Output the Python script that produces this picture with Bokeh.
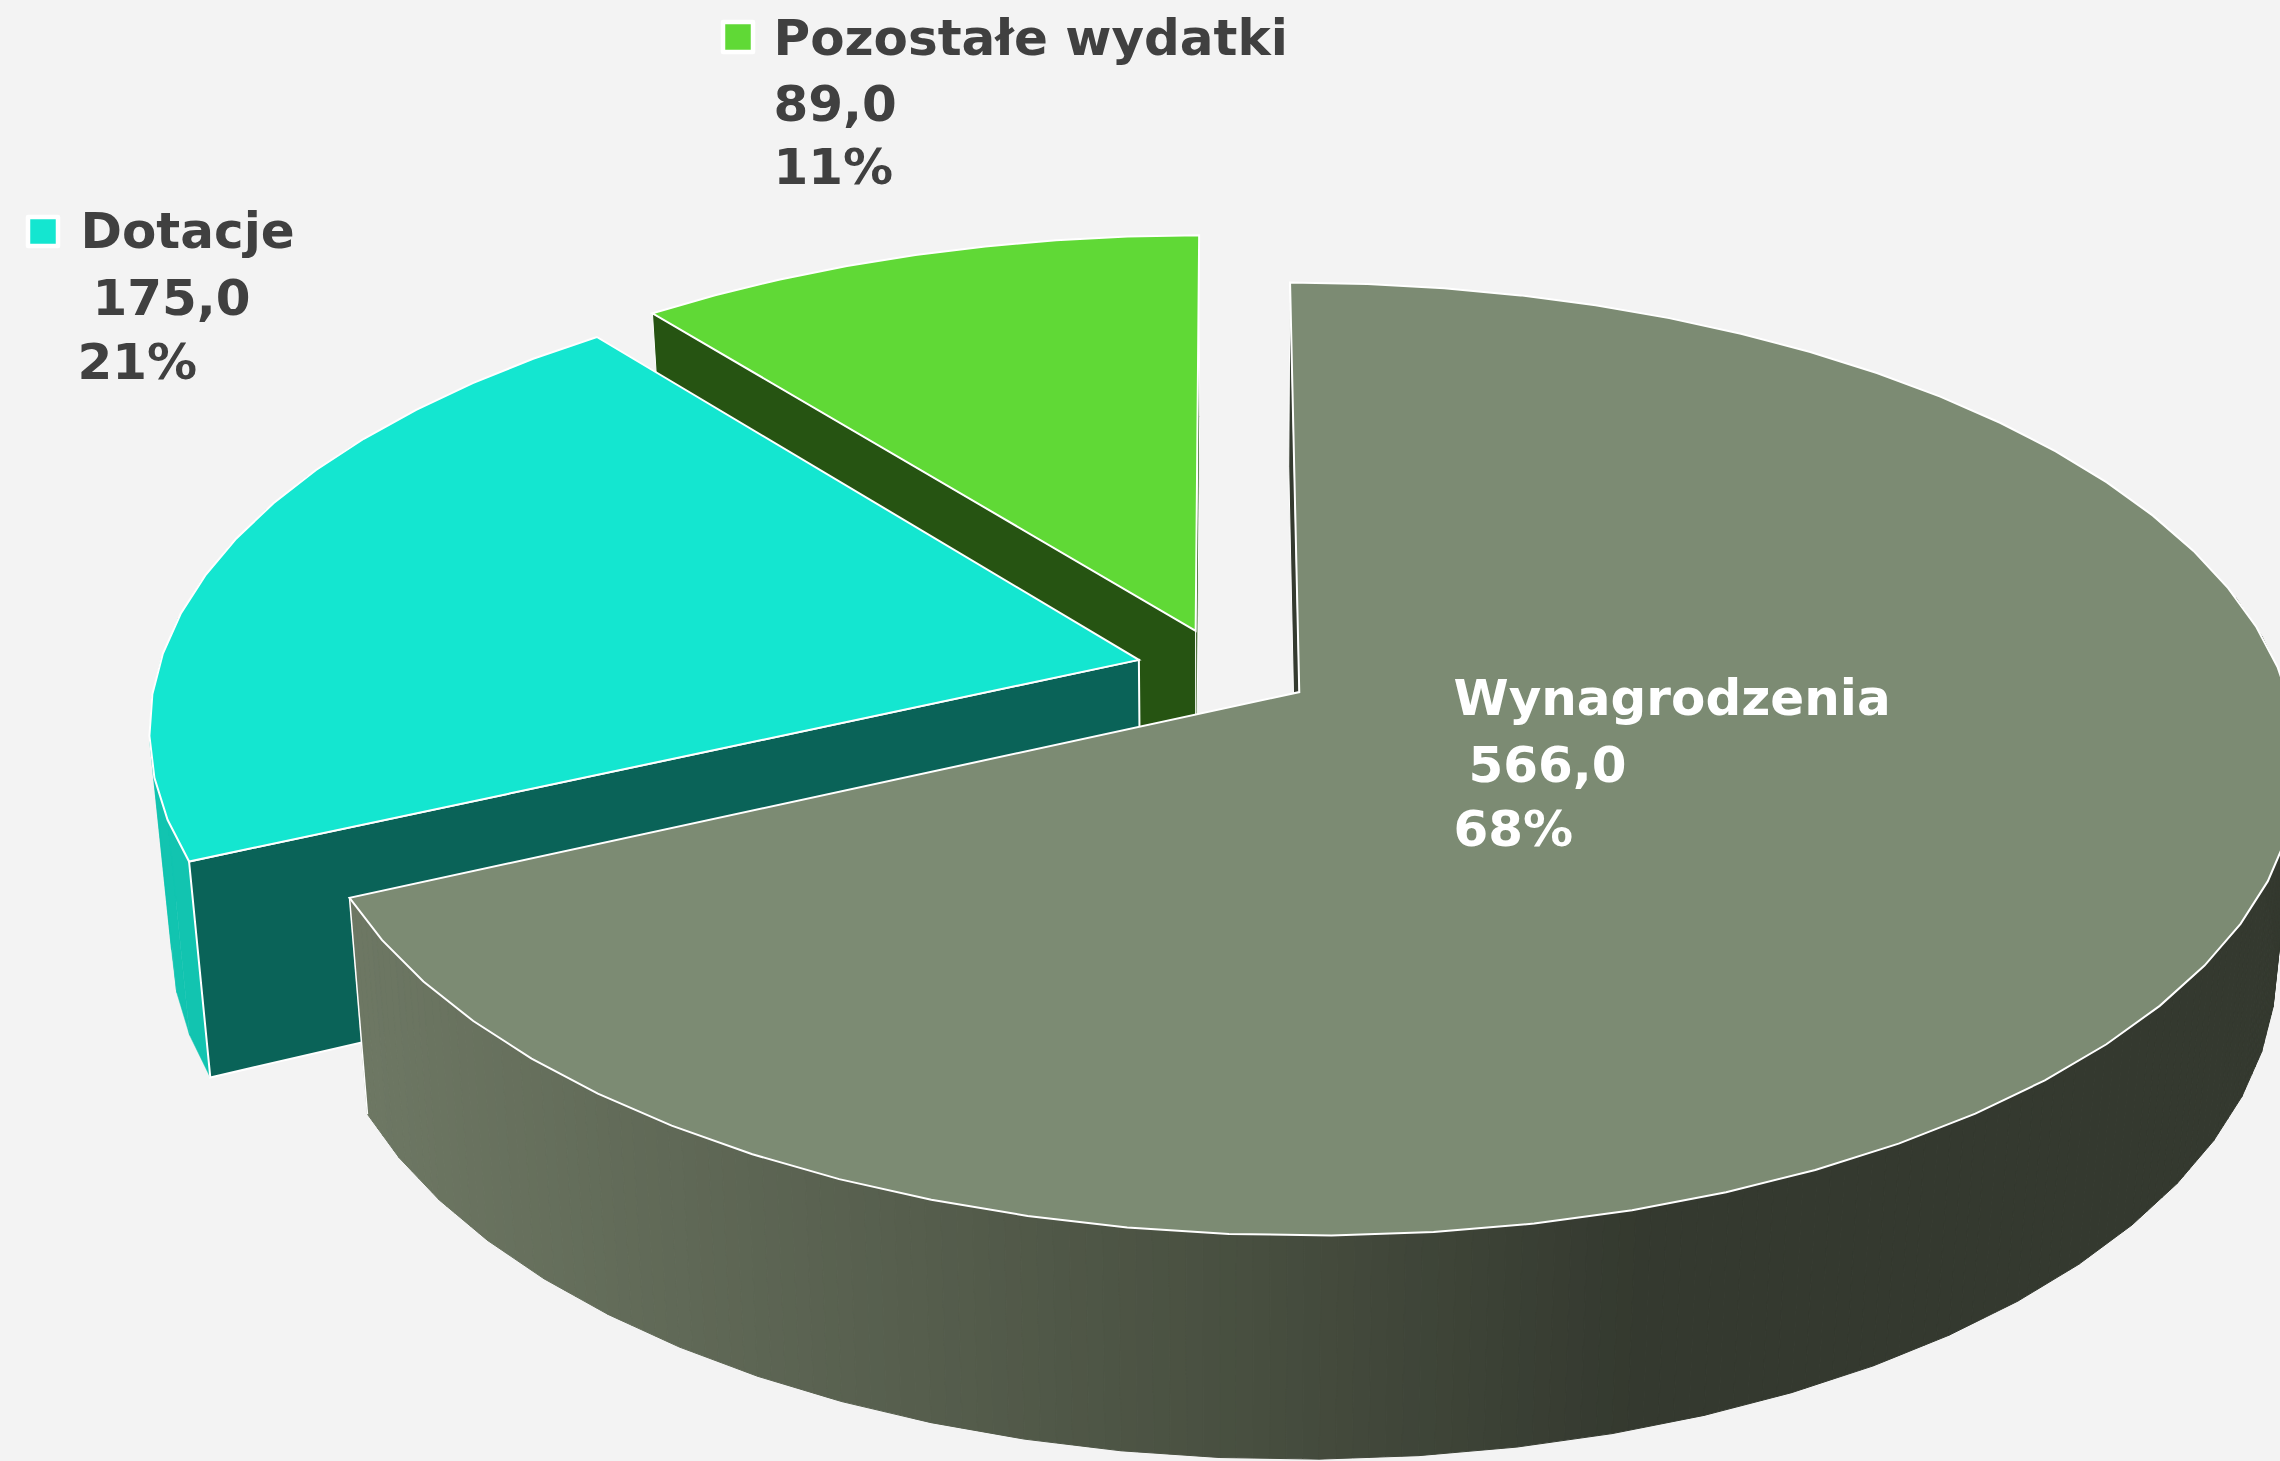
import numpy as np
from bokeh.plotting import figure
from bokeh.embed import file_html
from bokeh.resources import INLINE
from bokeh.core.properties import value

# ---- data ----
categories = ["Wynagrodzenia", "Dotacje", "Pozostałe wydatki"]
values = [566.0, 175.0, 89.0]

# ---- styles ----
BG = "#f3f3f3"
TOP = ["#7c8b73", "#14e6d0", "#60d936"]
END = ["#343a2f", "#0a6358", "#265412"]
RIM_TEAL = "#12c4b0"
TEXT_DARK = "#404040"
FONT = "DejaVu Sans"
FS = "50px"
TEXT_SHIFT = -20

W, H = 2280, 1461
CX, CY = 1224.0, 669.0      # projected pie centre
A, B, K = 981.0, 460.8, 0.1396   # ellipse axes and perspective
EXPLODE = 0.09
STEP = 5.1


def proj(X, Y):
    d = 1 + K * Y
    return CX + A * X / d, CY - B * Y / d


def drop(sx, X, Y):
    """base of the cake below a top-face point"""
    return -0.0205 * (sx - CX), 203 - 20 * Y - 5 * X


total = sum(values)
spans = [v / total * 360 for v in values]
starts = [90 - sum(spans[:i]) for i in range(3)]   # clockwise from twelve o'clock

slices = []
for st, sp in zip(starts, spans):
    mid = np.radians(st - sp / 2)
    ox, oy = EXPLODE * np.cos(mid), EXPLODE * np.sin(mid)
    n = max(2, int(round(sp / STEP)))
    th = np.radians(np.linspace(st, st - sp, n + 1))
    X, Y = ox + np.cos(th), oy + np.sin(th)
    sx, sy = proj(X, Y)
    ax, ay = proj(np.array([ox]), np.array([oy]))
    slices.append(dict(ox=ox, oy=oy, X=X, Y=Y, sx=sx, sy=sy, ax=ax[0], ay=ay[0], st=st, sp=sp, n=n))


def base(px, py, X, Y):
    dx, dy = drop(px, X, Y)
    return px + dx, py + dy


def rim_pts(s, a0, a1):
    n = max(2, int(round(abs(a1 - a0) / STEP)))
    th = np.radians(np.linspace(a0, a1, n + 1))
    X, Y = s["ox"] + np.cos(th), s["oy"] + np.sin(th)
    sx, sy = proj(X, Y)
    bx, by = base(sx, sy, X, Y)
    return sx, sy, bx, by


p = figure(width=W, height=H, x_range=(0, W), y_range=(H, 0),
           toolbar_location=None, output_backend="svg",
           background_fill_color=BG, border_fill_color=BG,
           min_border=0, outline_line_color=None)
p.axis.visible = False
p.grid.visible = False


def face(xs, ys, color, lw=2.0, line="white"):
    p.patch(list(xs), list(ys), fill_color=color, line_color=line, line_width=lw, line_join="miter")


def cut_wall(s, idx, color, lw=1.5):
    """cut face from the apex to rim point idx"""
    rx, ry, rX, rY = s["sx"][idx], s["sy"][idx], s["X"][idx], s["Y"][idx]
    bx1, by1 = base(s["ax"], s["ay"], s["ox"], s["oy"])
    bx2, by2 = base(rx, ry, rX, rY)
    face([s["ax"], rx, bx2, bx1], [s["ay"], ry, by2, by1], color, lw)


def top(s, color):
    face([s["ax"], *s["sx"]], [s["ay"], *s["sy"]], color)


# order: far slices first
main, teal, green = slices

# green
cut_wall(green, 0, END[2], 1.0)     # right cut
cut_wall(green, -1, END[2], 1.0)    # left cut, towards Dotacje
top(green, TOP[2])

# teal
sx, sy, bx, by = rim_pts(teal, 150, starts[1] + 360)
tx = [[sx[i], sx[i + 1], bx[i + 1], bx[i]] for i in range(len(sx) - 1)]
ty = [[sy[i], sy[i + 1], by[i + 1], by[i]] for i in range(len(sx) - 1)]
p.patches(tx, ty, fill_color=RIM_TEAL, line_color=RIM_TEAL, line_width=0.5)
cut_wall(teal, 0, END[1], 2.0)
top(teal, TOP[1])

# main: sliver of the starting cut
cut_wall(main, 0, END[0], 1.0)

# main: outer wall as narrow vertical strips for the horizontal shading
sx, sy, bx, by = rim_pts(main, starts[0] - spans[0], 12)
stops_x = [349.0, 1250.0, 1650.0]
stops_r = [110, 72, 52]
stops_g = [120, 79, 57]
stops_b = [100, 64, 47]
SUB = 6
xs, ys, cols = [], [], []
for i in range(len(sx) - 1):
    for j in range(SUB):
        t0, t1 = j / SUB, (j + 1) / SUB
        ix = lambda a: (a[i] + (a[i + 1] - a[i]) * t0, a[i] + (a[i + 1] - a[i]) * t1)
        a0, a1 = ix(sx)
        b0, b1 = ix(sy)
        c0, c1 = ix(bx)
        d0, d1 = ix(by)
        xs.append([a0, a1, c1, c0])
        ys.append([b0, b1, d1, d0])
        m = (a0 + a1) / 2
        r = np.interp(m, stops_x, stops_r)
        g = np.interp(m, stops_x, stops_g)
        b = np.interp(m, stops_x, stops_b)
        cols.append("#%02x%02x%02x" % (int(r), int(g), int(b)))
p.patches(xs, ys, fill_color=cols, line_color=cols, line_width=1)
# white left edge of that wall
p.line([sx[0], bx[0]], [sy[0], by[0]], line_color="white", line_width=1.5)

top(main, TOP[0])


# ---- labels ----
def fmt(v):
    return f"{v:.1f}".replace(".", ",")


def pct(v):
    return f"{round(v / total * 100)}%"


def label(x, y, txt, color):
    p.text([x], [y + TEXT_SHIFT], text=[txt], text_color=color, text_font=value(FONT),
           text_font_style="bold", text_font_size=FS,
           text_align="left", text_baseline="alphabetic")


def key(x0, x1, y0, y1, color):
    p.quad(left=[x0 - 2.5], right=[x1 + 2.5], top=[y0 - 2.5], bottom=[y1 + 2.5], fill_color=color,
           line_color="white", line_width=4.5, line_join="round")


label(1453, 717, categories[0], "white")
label(1468, 783, fmt(values[0]), "white")
label(1453, 848, pct(values[0]), "white")

key(30, 55, 219, 243, TOP[1])
label(80, 250, categories[1], TEXT_DARK)
label(92, 316, fmt(values[1]), TEXT_DARK)
label(77, 381, pct(values[1]), TEXT_DARK)

key(725, 750, 24, 49, TOP[2])
label(773, 57, categories[2], TEXT_DARK)
label(773, 122, fmt(values[2]), TEXT_DARK)
label(773, 186, pct(values[2]), TEXT_DARK)

html = file_html(p, INLINE)
html = html.replace("</head>", f"<style>html,body{{margin:0;padding:0;background:{BG};overflow:hidden}}</style></head>", 1)
open("out.html", "w").write(html)
